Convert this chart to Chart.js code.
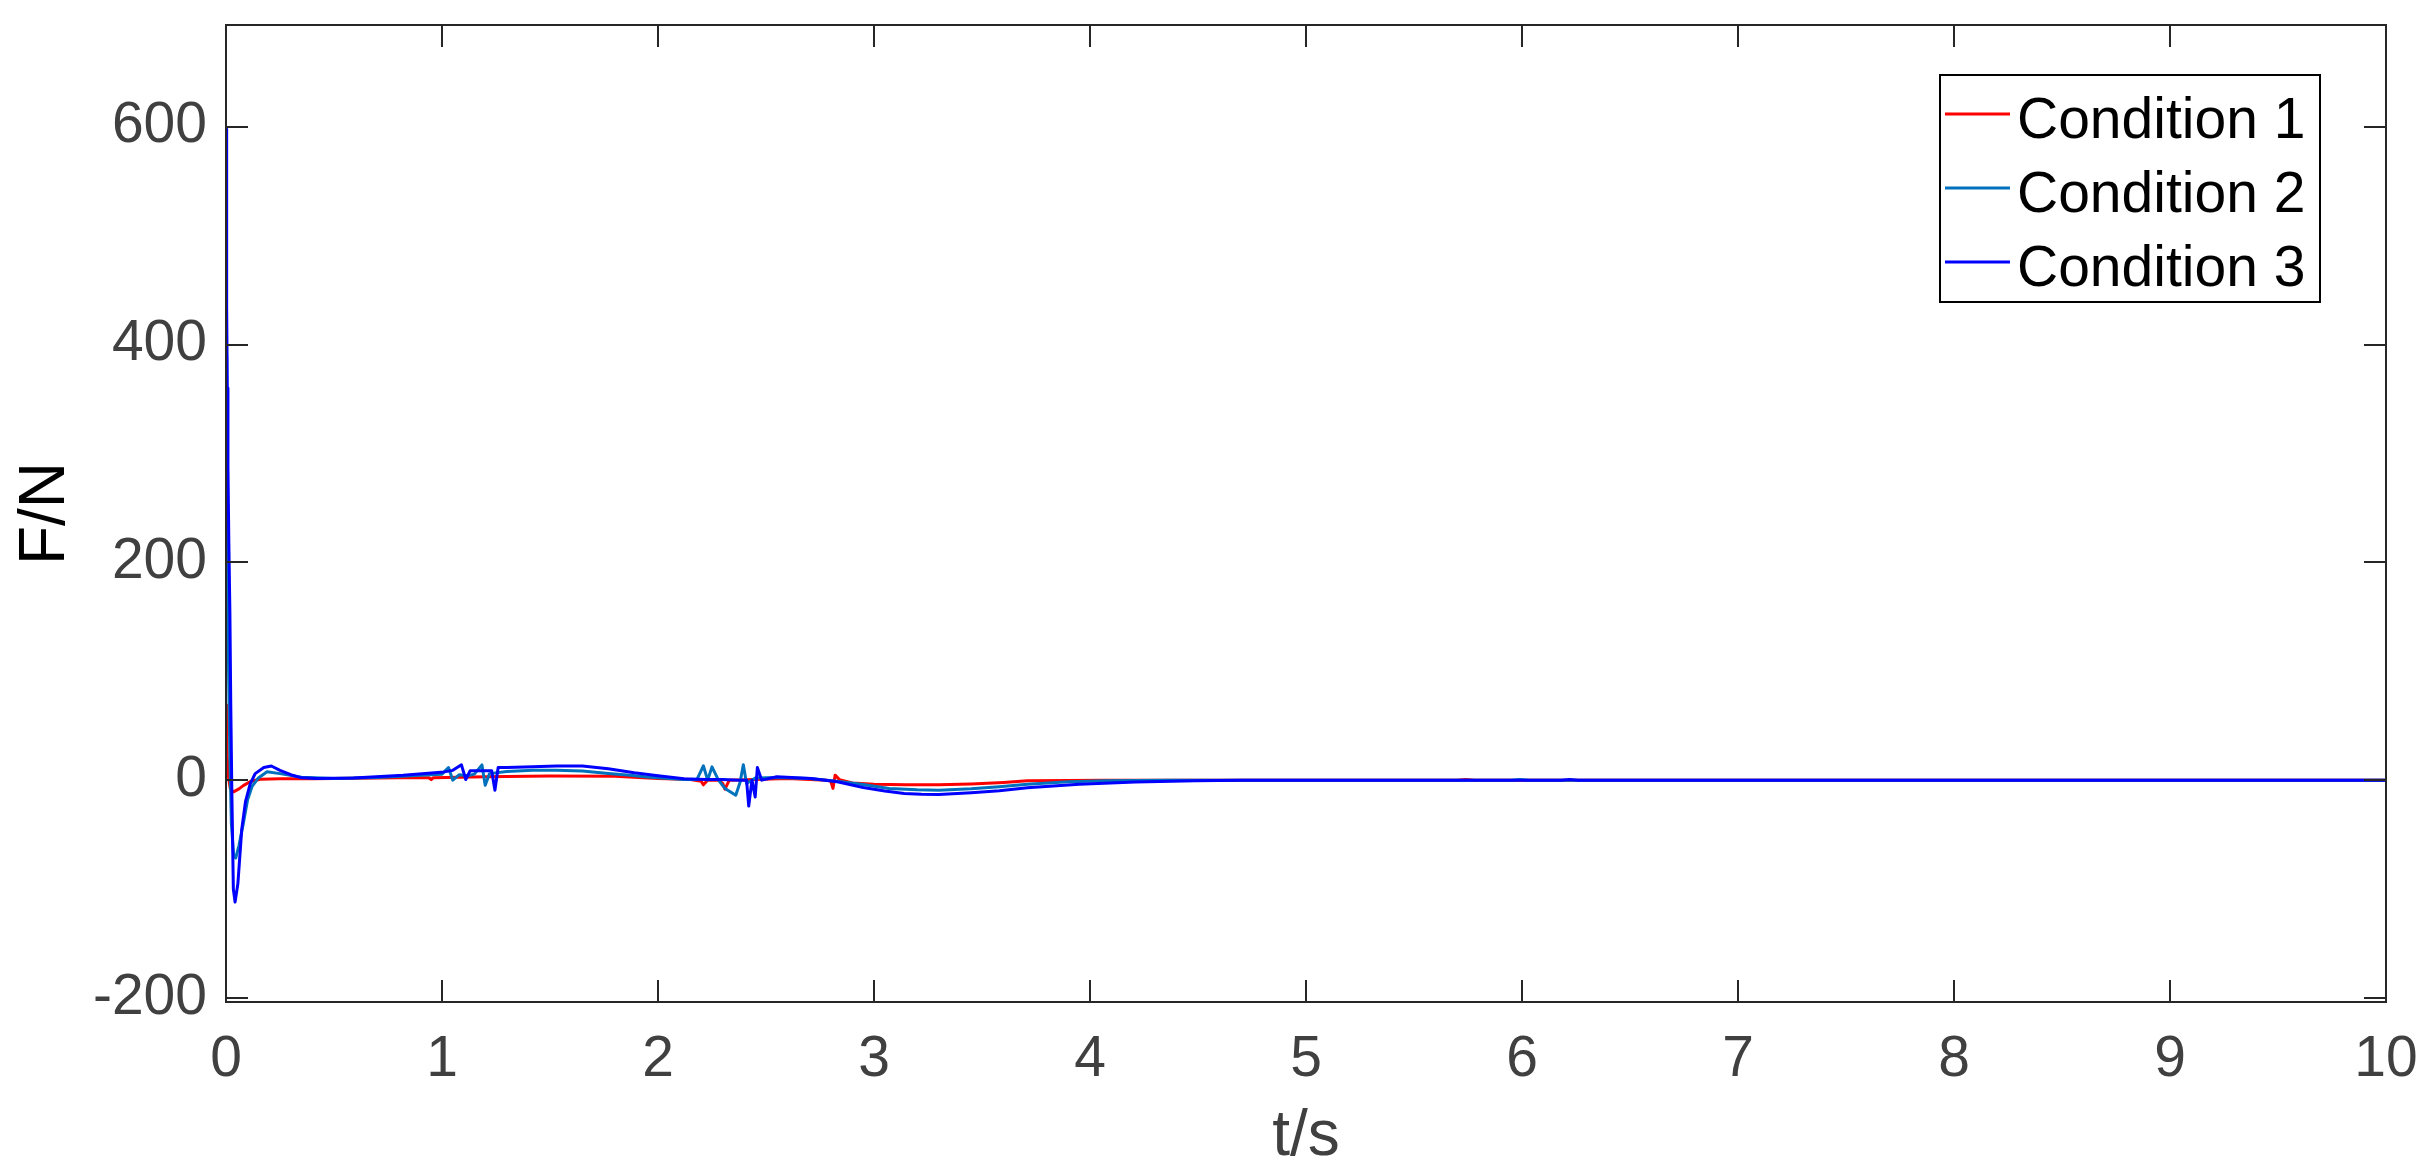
<!DOCTYPE html>
<html>
<head>
<meta charset="utf-8">
<script src="https://cdn.jsdelivr.net/npm/chart.js@4.4.0/dist/chart.umd.min.js"></script>
<style>
  html, body { margin: 0; padding: 0; background: #fff; }
  #wrap { width: 2432px; height: 1173px; }
</style>
</head>
<body>
<div id="wrap"><canvas id="forceChart" width="2432" height="1173"></canvas></div>
<script>
// Force response F/N over time t/s for three conditions.
// Values.

const seriesLabels = ['Condition 1', 'Condition 2', 'Condition 3'];
const seriesColors = ['#ff0000', '#0072bd', '#0000ff'];

// Condition 1 (red)
const t1 = [0, 0.003, 0.006, 0.012, 0.02, 0.035, 0.06, 0.08, 0.115, 0.16, 0.25, 0.4, 0.6, 0.8, 0.94, 0.95, 0.96, 1.2, 1.5, 1.8, 2.0, 2.15, 2.2, 2.21, 2.23, 2.28, 2.3, 2.31, 2.33, 2.45, 2.6, 2.78, 2.8, 2.81, 2.82, 2.84, 2.9, 3.0, 3.15, 3.3, 3.45, 3.6, 3.71, 3.9, 4.07, 4.5, 5.7, 5.74, 5.78, 7, 8, 9, 10];
const f1 = [69, 40, 19, 2, -8, -10.7, -8, -5, -1, 0.8, 1.2, 1.3, 1.8, 2.2, 2.2, 0.5, 2.3, 3.2, 3.8, 3.5, 1.5, 0.5, -1, -4.3, 0, 0, -3, -8.3, 0, 0.5, 1.5, 0, -1, -7.6, 4.6, 0.5, -2.5, -3.7, -4.2, -4.3, -3.5, -2.1, -0.6, -0.3, 0, 0, 0, 0.7, 0, 0, 0, 0, 0];

// Condition 2 (matlab blue)
const t2 = [0, 0.003, 0.007, 0.012, 0.018, 0.025, 0.035, 0.045, 0.06, 0.08, 0.1, 0.12, 0.15, 0.19, 0.25, 0.35, 0.5, 0.7, 0.9, 1.0, 1.03, 1.05, 1.08, 1.12, 1.15, 1.185, 1.2, 1.22, 1.3, 1.42, 1.53, 1.65, 1.77, 1.87, 1.95, 2.05, 2.12, 2.18, 2.21, 2.23, 2.25, 2.28, 2.31, 2.36, 2.38, 2.395, 2.41, 2.45, 2.55, 2.7, 2.85, 2.95, 3.07, 3.2, 3.3, 3.45, 3.58, 3.71, 3.9, 4.07, 4.35, 5.95, 5.99, 6.03, 10];
const f2 = [390, 300, 200, 100, 20, -40, -68, -71.5, -60, -40, -18, -6, 2, 7.7, 6, 2.6, 1.5, 2.5, 4.5, 5.5, 11.6, 0, 5, 4, 5.5, 14, -4.6, 6, 8, 9, 9.2, 8.3, 6.1, 4.5, 3, 1.5, 0.6, 0.5, 13.2, 0, 12.2, 0, -7.6, -13.8, -2, 14.1, -3.1, 2, 2.5, 1.5, -1.5, -4, -7.6, -8.9, -9.2, -8, -6.1, -3.7, -1.5, -0.6, 0, 0, 0.7, 0, 0];

// Condition 3 (pure blue)
const t3 = [0, 0.002, 0.004, 0.006, 0.009, 0.013, 0.018, 0.022, 0.027, 0.034, 0.042, 0.055, 0.073, 0.09, 0.111, 0.135, 0.175, 0.21, 0.25, 0.3, 0.35, 0.42, 0.59, 0.82, 1.01, 1.05, 1.09, 1.11, 1.13, 1.18, 1.23, 1.245, 1.26, 1.30, 1.42, 1.53, 1.65, 1.77, 1.89, 2.0, 2.12, 2.22, 2.3, 2.38, 2.41, 2.42, 2.435, 2.45, 2.46, 2.48, 2.55, 2.71, 2.83, 2.95, 3.05, 3.14, 3.22, 3.30, 3.45, 3.58, 3.71, 3.95, 4.21, 4.49, 4.7, 6.18, 6.22, 6.26, 10];
const f3 = [598, 520, 435, 360, 289, 220, 154, 70, -10, -100, -112, -95, -45, -20, -4, 6, 11.6, 13, 9, 5, 2.1, 1.5, 2, 4.6, 7.6, 9, 14.1, 0.6, 8.6, 8.6, 8.6, -9.2, 11.6, 11.6, 12.4, 12.9, 12.9, 10.5, 6.8, 4, 1.2, 0.5, 0.5, 0, 0, -23.8, 0, -15.4, 11.6, 0, 3.1, 1.5, -1.5, -6.7, -10, -12.2, -13, -13.2, -11.6, -9.8, -7, -3.7, -1.8, -0.6, 0, 0, 0.7, 0, 0];

// axis ticks
const xTicks = [0, 1, 2, 3, 4, 5, 6, 7, 8, 9, 10];
const yTicks = [-200, 0, 200, 400, 600];

const FONT = '"Liberation Sans", Arial, Helvetica, sans-serif';
const AXIS_COLOR = '#262626';

function toPoints(ts, fs) {
  return ts.map((t, i) => ({ x: t, y: fs[i] }));
}

// box, inward ticks on all four sides, and the legend in the top right corner
const framePlugin = {
  id: 'frame',
  afterDraw(chart) {
    const ctx = chart.ctx;
    const a = chart.chartArea;
    const xs = chart.scales.x;
    const ys = chart.scales.y;
    const tl = 22;
    ctx.save();
    ctx.strokeStyle = AXIS_COLOR;
    ctx.lineWidth = 2;
    ctx.beginPath();
    ctx.rect(a.left, a.top, a.right - a.left, a.bottom - a.top);
    xTicks.forEach(v => {
      const px = Math.round(xs.getPixelForValue(v));
      ctx.moveTo(px, a.bottom); ctx.lineTo(px, a.bottom - tl);
      ctx.moveTo(px, a.top); ctx.lineTo(px, a.top + tl);
    });
    yTicks.forEach(v => {
      const py = Math.round(ys.getPixelForValue(v));
      ctx.moveTo(a.left, py); ctx.lineTo(a.left + tl, py);
      ctx.moveTo(a.right, py); ctx.lineTo(a.right - tl, py);
    });
    ctx.stroke();

    // legend
    const bx = 1940, by = 75, bw = 380, bh = 227;
    ctx.fillStyle = '#fff';
    ctx.fillRect(bx, by, bw, bh);
    ctx.strokeStyle = '#000';
    ctx.lineWidth = 2;
    ctx.strokeRect(bx, by, bw, bh);
    ctx.font = '57px ' + FONT;
    ctx.textBaseline = 'alphabetic';
    ctx.textAlign = 'left';
    chart.data.datasets.forEach((ds, i) => {
      const cy = 114 + i * 74;
      ctx.strokeStyle = ds.borderColor;
      ctx.lineWidth = 3;
      ctx.beginPath();
      ctx.moveTo(1945, cy); ctx.lineTo(2010, cy);
      ctx.stroke();
      ctx.fillStyle = '#000';
      ctx.fillText(ds.label, 2017, cy + 24);
    });
    ctx.restore();
  }
};

const ctx = document.getElementById('forceChart').getContext('2d');
const chart = new Chart(ctx, {
  type: 'line',
  data: {
    datasets: [
      { label: seriesLabels[0], data: toPoints(t1, f1), borderColor: seriesColors[0], order: 2 },
      { label: seriesLabels[1], data: toPoints(t2, f2), borderColor: seriesColors[1], order: 1 },
      { label: seriesLabels[2], data: toPoints(t3, f3), borderColor: seriesColors[2], order: 0 }
    ]
  },
  options: {
    responsive: false,
    animation: false,
    devicePixelRatio: 1,
    elements: {
      line: { borderWidth: 3, tension: 0, fill: false, borderJoinStyle: 'round' },
      point: { radius: 0 }
    },
    layout: { padding: { top: 25, right: 46, left: 0, bottom: 0 } },
    plugins: {
      legend: { display: false },
      tooltip: { enabled: false }
    },
    scales: {
      x: {
        type: 'linear',
        min: 0,
        max: 10,
        grid: { display: false, drawTicks: false },
        border: { display: false },
        afterBuildTicks: s => { s.ticks = xTicks.map(v => ({ value: v })); },
        afterFit: s => { s.height = 171; s.paddingLeft = 0; s.paddingRight = 0; },
        ticks: {
          padding: 24,
          color: '#404040',
          font: { family: FONT, size: 57 },
          maxRotation: 0
        },
        title: {
          display: true,
          text: 't/s',
          color: '#404040',
          font: { family: FONT, size: 64 },
          padding: { top: 0, bottom: -3 }
        }
      },
      y: {
        min: -203.7,
        max: 693.4,
        grid: { display: false, drawTicks: false },
        border: { display: false },
        afterBuildTicks: s => { s.ticks = yTicks.map(v => ({ value: v })); },
        afterFit: s => { s.width = 226; s.paddingTop = 0; s.paddingBottom = 0; },
        ticks: {
          padding: 19,
          color: '#404040',
          font: { family: FONT, size: 57 }
        },
        title: {
          display: true,
          text: 'F/N',
          color: '#000',
          font: { family: FONT, size: 64 },
          padding: { top: 8, bottom: 0 }
        }
      }
    }
  },
  plugins: [framePlugin]
});
</script>
</body>
</html>
